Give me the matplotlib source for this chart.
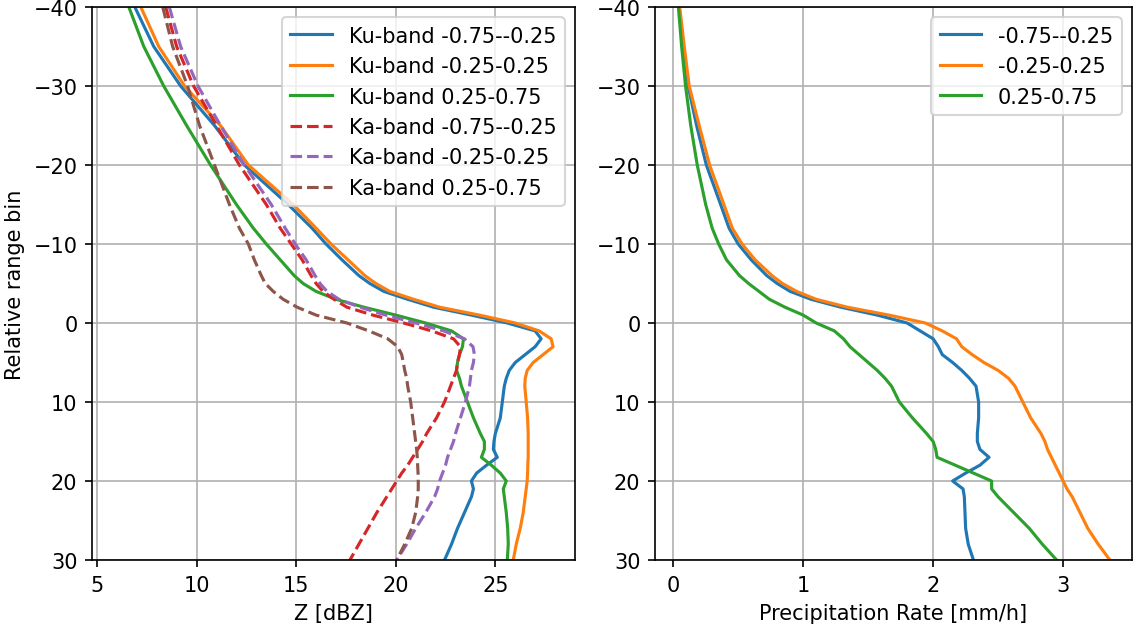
import matplotlib
matplotlib.use("Agg")
import matplotlib.pyplot as plt

# Relative range bins (negative = above the reference bin)
bins_z = [-40, -35, -30, -25, -20, -15, -12, -10, -8, -6, -5, -4, -3, -2, -1,
          0, 1, 2, 3, 4, 5, 6, 7, 8, 10, 12, 14, 15, 16, 17, 18, 19, 20, 21,
          22, 24, 26, 28, 30]

# Mean reflectivity profiles [dBZ]
ku_neg = [6.9, 7.85, 9.2, 10.9, 12.4, 14.6, 15.8, 16.5, 17.3, 18.15, 18.7,
          19.4, 20.6, 21.9, 23.8, 25.6, 27.0, 27.3, 27.0, 26.5, 26.0, 25.7,
          25.55, 25.45, 25.35, 25.25, 25.0, 24.93, 24.9, 25.1, 24.56, 24.06,
          23.8, 23.9, 23.8, 23.45, 23.1, 22.8, 22.45]
ku_mid = [7.2, 8.1, 9.4, 11.2, 12.6, 14.85, 16.0, 16.75, 17.6, 18.45, 19.0,
          19.7, 20.9, 22.2, 24.2, 26.0, 27.2, 27.8, 27.9, 27.4, 26.9, 26.6,
          26.5, 26.48, 26.55, 26.62, 26.65, 26.65, 26.65, 26.65, 26.63, 26.62,
          26.6, 26.55, 26.5, 26.4, 26.25, 26.05, 25.9]
ku_pos = [6.6, 7.35, 8.35, 9.5, 10.7, 12.0, 12.85, 13.5, 14.2, 14.9, 15.35,
          16.0, 17.0, 18.4, 20.0, 21.5, 22.8, 23.4, 23.35, 23.2, 23.1, 23.05,
          23.2, 23.3, 23.6, 23.9, 24.25, 24.45, 24.45, 24.3, 24.8, 25.25,
          25.55, 25.4, 25.45, 25.55, 25.62, 25.65, 25.6]
ka_neg = [8.45, 9.0, 9.85, 11.0, 12.15, 13.5, 14.2, 14.75, 15.3, 15.75, 16.0,
          16.35, 16.9, 17.55, 18.85, 20.4, 21.8, 22.9, 23.25, 23.2, 23.1,
          23.05, 22.9, 22.75, 22.45, 22.05, 21.55, 21.35, 21.1, 20.85, 20.6,
          20.3, 20.05, 19.8, 19.55, 19.05, 18.6, 18.15, 17.7]
ka_mid = [8.63, 9.2, 10.07, 11.2, 12.4, 13.75, 14.45, 14.95, 15.5, 15.95,
          16.2, 16.55, 17.15, 18.2, 19.5, 21.0, 22.4, 23.45, 23.88, 23.95,
          23.9, 23.8, 23.75, 23.7, 23.5, 23.25, 23.0, 22.9, 22.75, 22.6, 22.5,
          22.35, 22.2, 22.1, 21.95, 21.5, 21.0, 20.55, 20.05]
ka_pos = [8.3, 8.8, 9.55, 10.15, 10.9, 11.65, 12.15, 12.6, 12.9, 13.25, 13.45,
          13.85, 14.35, 15.05, 16.0, 17.55, 18.65, 19.6, 20.1, 20.3, 20.38,
          20.45, 20.55, 20.6, 20.75, 20.85, 20.95, 21.0, 21.05, 21.08, 21.1,
          21.12, 21.13, 21.13, 21.1, 21.0, 20.8, 20.45, 20.05]

bins_r = [-40, -35, -30, -25, -20, -15, -12, -10, -8, -6, -5, -4, -3, -2, -1,
          0, 1, 2, 3, 4, 5, 6, 7, 8, 10, 12, 14, 15, 16, 17, 18, 19, 20, 21,
          22, 24, 26, 28, 30]

# Mean precipitation rate profiles [mm/h]
rr_neg = [0.045, 0.08, 0.115, 0.18, 0.255, 0.365, 0.43, 0.5, 0.6, 0.72, 0.8,
          0.9, 1.06, 1.29, 1.57, 1.8, 1.9, 2.0, 2.04, 2.07, 2.15, 2.22, 2.28,
          2.33, 2.35, 2.35, 2.34, 2.34, 2.36, 2.43, 2.36, 2.25, 2.15, 2.23,
          2.24, 2.245, 2.25, 2.27, 2.31]
rr_mid = [0.05, 0.085, 0.123, 0.2, 0.28, 0.39, 0.455, 0.53, 0.63, 0.76, 0.84,
          0.95, 1.1, 1.34, 1.66, 1.94, 2.07, 2.18, 2.22, 2.3, 2.39, 2.5, 2.58,
          2.63, 2.69, 2.75, 2.83, 2.86, 2.88, 2.91, 2.94, 2.97, 3.0, 3.03,
          3.07, 3.13, 3.19, 3.27, 3.36]
rr_pos = [0.04, 0.065, 0.095, 0.135, 0.185, 0.25, 0.3, 0.35, 0.41, 0.51,
          0.58, 0.66, 0.74, 0.86, 1.0, 1.1, 1.24, 1.31, 1.36, 1.43, 1.5, 1.57,
          1.63, 1.68, 1.74, 1.84, 1.95, 2.0, 2.02, 2.03, 2.17, 2.31, 2.45,
          2.45, 2.5, 2.62, 2.74, 2.84, 2.95]

classes = ["-0.75--0.25", "-0.25-0.25", "0.25-0.75"]

fig = plt.figure(figsize=(1134 / 150, 626 / 150), dpi=150)
ax1 = fig.add_axes([92 / 1134, 65 / 626, 483 / 1134, 553 / 626])
ax2 = fig.add_axes([655 / 1134, 65 / 626, 477 / 1134, 553 / 626])

for vals, name in zip([ku_neg, ku_mid, ku_pos], classes):
    ax1.plot(vals, bins_z, label=f"Ku-band {name}")
for vals, name in zip([ka_neg, ka_mid, ka_pos], classes):
    ax1.plot(vals, bins_z, "--", label=f"Ka-band {name}")

for vals, name in zip([rr_neg, rr_mid, rr_pos], classes):
    ax2.plot(vals, bins_r, label=name)

ax1.set_xlim(4.75, 29.0)
ax2.set_xlim(-0.14, 3.53)
for ax in (ax1, ax2):
    ax.set_ylim(30, -40)
    ax.grid(True)
    ax.legend(loc="upper right")

ax1.set_xticks([5, 10, 15, 20, 25])
ax2.set_xticks([0, 1, 2, 3])
ax1.set_xlabel("Z [dBZ]")
ax2.set_xlabel("Precipitation Rate [mm/h]")
ax1.set_ylabel("Relative range bin")

fig.savefig("out.png", dpi=150)
